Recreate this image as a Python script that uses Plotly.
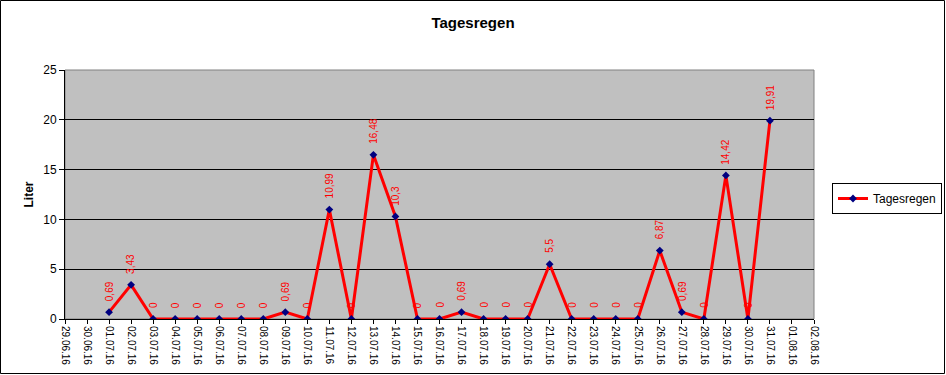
import plotly.graph_objects as go

dates = ["2016-07-%02d" % d for d in range(1, 32)]
values = [0.69, 3.43, 0, 0, 0, 0, 0, 0, 0.69, 0, 10.99, 0, 16.48, 10.3, 0, 0, 0.69, 0, 0, 0,
          5.5, 0, 0, 0, 0, 6.87, 0.69, 0, 14.42, 0, 19.91]
series_name = "Tagesregen"
y_ticks = [0, 5, 10, 15, 20, 25]

FONT = "Arial, Liberation Sans, sans-serif"
W, H = 946, 375
L, R, T, B = 65, 132, 70, 56
pw, ph = W - L - R, H - T - B

fig = go.Figure()
fig.add_trace(go.Scatter(
    x=dates, y=values, mode="lines+markers", name=series_name,
    line=dict(color="#FF0000", width=3),
    marker=dict(symbol="diamond", size=6, color="#000080"),
))

for d, v in zip(dates, values):
    lab = ("%g" % v).replace(".", ",")
    fig.add_annotation(x=d, y=v, text=lab, showarrow=False, textangle=-90,
                       yanchor="bottom", xanchor="center", yshift=9,
                       font=dict(family=FONT, size=10, color="#FF0000"))

def px_x(p):
    return (p - L) / pw
def px_y(p):
    return (H - B - p) / ph
# outer chart border
fig.add_shape(type="rect", xref="paper", yref="paper",
              x0=px_x(0.5), x1=px_x(944.5), y0=px_y(373.5), y1=px_y(0.5),
              line=dict(color="black", width=1), layer="below")
# plot area border
fig.add_shape(type="rect", xref="paper", yref="paper", x0=0, x1=1, y0=0, y1=1,
              line=dict(color="#808080", width=1), layer="below")

fig.update_layout(
    width=W, height=H,
    margin=dict(l=L, r=R, t=T, b=B, autoexpand=False),
    paper_bgcolor="white", plot_bgcolor="#C0C0C0",
    font=dict(family=FONT, size=12, color="black"),
    title=dict(text="<b>Tagesregen</b>", x=0.5, xref="container", xanchor="center",
               y=1 - 23 / H, yanchor="middle", font=dict(size=15, family=FONT)),
    showlegend=True,
    legend=dict(x=px_x(832), y=px_y(183), xanchor="left", yanchor="top",
                bordercolor="black", borderwidth=1, bgcolor="white",
                font=dict(size=12, family=FONT), itemwidth=30,
                tracegroupgap=0),
    xaxis=dict(type="date", range=["2016-06-29", "2016-08-02"], dtick=86400000,
               tick0="2016-06-29", tickformat="%d.%m.%y", tickangle=90,
               tickfont=dict(size=10, family=FONT), ticks="outside", ticklen=4,
               tickcolor="black", showgrid=False, showline=True, linecolor="black",
               linewidth=1, zeroline=False, automargin=False),
    yaxis=dict(range=[0, 25], tickvals=y_ticks, ticks="outside", ticklen=5,
               tickcolor="black", showgrid=True, gridcolor="black", gridwidth=1,
               showline=True, linecolor="black", linewidth=1, zeroline=False,
               tickfont=dict(size=12, family=FONT), automargin=False,
               title=dict(text="<b>Liter</b>", font=dict(size=12, family=FONT), standoff=7)),
)

fig.write_html("out.html", config={"displayModeBar": False},
               post_script="document.body.style.margin='0';document.body.style.overflow='hidden';")
